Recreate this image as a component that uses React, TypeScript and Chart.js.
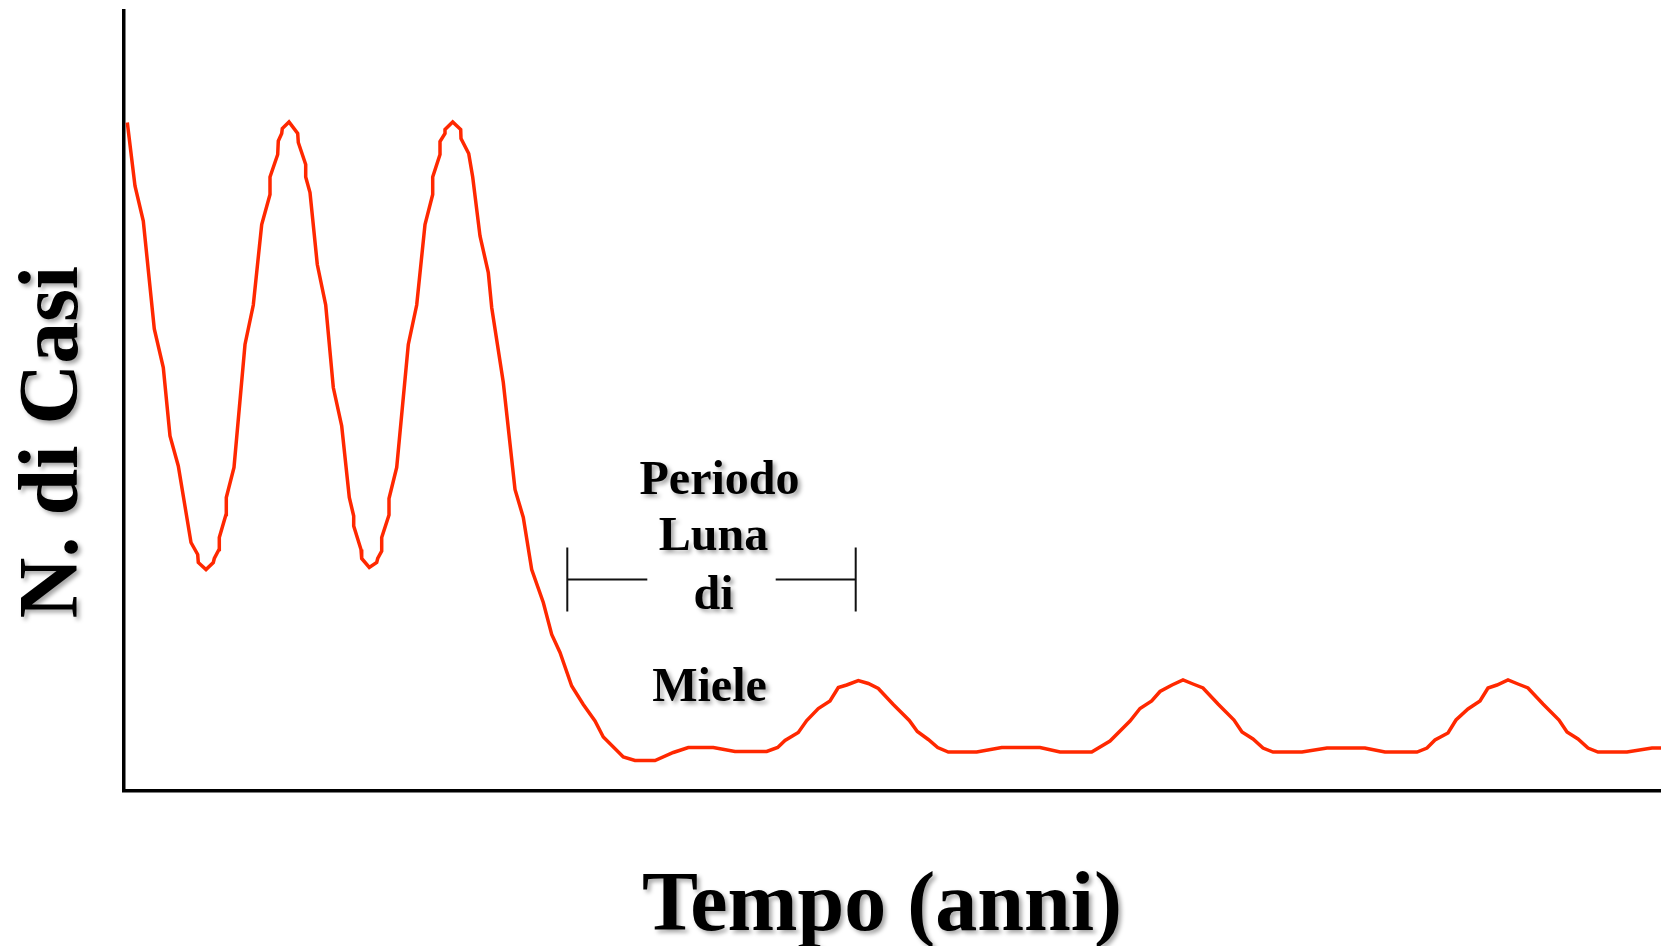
import React, { useEffect, useRef } from "react";
import { Chart, registerables } from "chart.js";

Chart.register(...registerables);

// Tempo (mesi) e N. di casi
const months: number[] = [
  0.33, 1.1, 1.93, 3.03, 3.93, 4.6, 5.43, 6.7, 7.37, 7.43, 8.2, 8.93, 9.03, 9.5, 9.53, 10.2, 10.23, 11,
  12.1, 12.93, 13.77, 14.6, 14.6, 15.37, 15.43, 15.77, 15.83, 16.5, 17.37, 17.43, 18.17, 18.17, 18.6,
  19.33, 20.17, 20.93, 21.77, 22.53, 22.97, 22.97, 23.7, 23.77, 24.53, 25.27, 25.37, 25.77, 25.77, 26.5,
  26.5, 27.27, 28.43, 29.27, 30.1, 30.87, 30.87, 31.6, 31.6, 32.1, 32.1, 32.87, 33.67, 33.7, 34.47, 34.87,
  35.6, 36.43, 36.77, 37.93, 39.1, 39.93, 40.77, 41.93, 42.77, 43.6, 44.77, 45.93, 47.1, 47.93, 49.93,
  51.1, 53.1, 54.93, 56.43, 58.93, 61.1, 64.27, 65.37, 66.1, 67.43, 68.27, 69.43, 70.6, 71.43, 72.27,
  73.43, 74.43, 75.43, 76.93, 78.53, 79.33, 80.43, 81.37, 82.43, 85.27, 87.77, 91.6, 93.6, 96.77, 98.6,
  100.6, 101.6, 102.77, 103.6, 104.8, 105.9, 106.9, 107.9, 109.4, 111, 111.8, 112.9, 113.9, 114.9, 117.8,
  120.3, 124.1, 126.1, 129.3, 130.3, 131.1, 132.4, 133.2, 134.4, 135.6, 136.4, 137.3, 138.4, 139.4, 140.4,
  141.9, 143.5, 144.3, 145.4, 146.4, 147.4, 150.3, 152.8, 153.7,
];

const cases: number[] = [
  133.7, 121, 114, 92.4, 84.7, 71, 65, 49.7, 47.3, 45.7, 44.3, 45.7, 46.5, 48.3, 50.7, 55.3, 58.7, 64.7,
  89.3, 97.2, 113.3, 119.3, 122.8, 127.3, 130, 131.5, 132.5, 133.8, 131.5, 129.7, 125.3, 122.8, 119.7,
  105.3, 97.2, 80.7, 73, 58.7, 55, 53, 48.3, 46.5, 44.7, 45.7, 46.5, 48, 50.7, 55.2,
  58.5, 64.7, 89.3, 97.2, 113.3, 119.3, 122.8, 127.3, 129.9, 131.5, 132.3, 133.8, 132.3, 130.5, 127.5, 122.8,
  111, 103.7, 96.7, 81.7, 60.3, 54.7, 44.3, 37.7, 31.3, 27.7, 21, 17.3, 14, 10.8, 6.8,
  6.1, 6.1, 7.7, 8.7, 8.7, 7.9, 7.9, 8.7, 10.1, 11.7, 14.1, 16.5, 18, 20.7, 21.2,
  22.1, 21.5, 20.5, 17.3, 14.1, 11.9, 10.3, 8.7, 7.8, 7.8, 8.7, 8.7, 7.8, 7.8, 10,
  14, 16.5, 18, 19.9, 21.2, 22.2, 21.4, 20.6, 17.4, 14.2, 11.8, 10.4, 8.6, 7.8, 7.8,
  8.6, 8.6, 7.8, 7.8, 8.6, 10.2, 11.6, 14.2, 16.4, 18, 20.6, 21.2, 22.2, 21.4, 20.6,
  17.4, 14.2, 11.8, 10.4, 8.6, 7.8, 7.8, 8.6, 8.6,
];

const xTitle = "Tempo (anni)";
const yTitle = "N. di Casi";
const honeymoonLabel: string[] = ["Periodo", "Luna", "di", "Miele"];
const honeymoonStart = 44.33;
const honeymoonEnd = 73.17;
const honeymoonLevel = 42.3;

const FONT = '"Liberation Serif", "Times New Roman", serif';

const textPlugin = {
  id: "textPlugin",
  afterDraw(chart: any) {
    const ctx: CanvasRenderingContext2D = chart.ctx;
    const xs = chart.scales.x;
    const ys = chart.scales.y;
    const x1 = xs.getPixelForValue(honeymoonStart);
    const x2 = xs.getPixelForValue(honeymoonEnd);
    const yb = ys.getPixelForValue(honeymoonLevel);
    const mid = (x1 + x2) / 2;

    // bracket
    ctx.save();
    ctx.strokeStyle = "#111";
    ctx.lineWidth = 2;
    ctx.beginPath();
    ctx.moveTo(x1, yb - 32);
    ctx.lineTo(x1, yb + 32);
    ctx.moveTo(x2, yb - 32);
    ctx.lineTo(x2, yb + 32);
    ctx.moveTo(x1, yb);
    ctx.lineTo(x1 + 80, yb);
    ctx.moveTo(x2 - 80, yb);
    ctx.lineTo(x2, yb);
    ctx.stroke();
    ctx.restore();

    const shadow = () => {
      ctx.shadowColor = "rgba(0,0,0,0.35)";
      ctx.shadowBlur = 4;
      ctx.shadowOffsetX = 3;
      ctx.shadowOffsetY = 3;
    };

    // honeymoon text
    ctx.save();
    shadow();
    ctx.fillStyle = "#000";
    ctx.font = `bold 48px ${FONT}`;
    ctx.textAlign = "center";
    ctx.textBaseline = "alphabetic";
    const offs = [
      { dx: 8, dy: -86 },
      { dx: 2, dy: -30 },
      { dx: 2, dy: 29 },
      { dx: -2, dy: 121 },
    ];
    honeymoonLabel.forEach((t, i) => {
      ctx.fillText(t, mid + offs[i].dx, yb + offs[i].dy);
    });
    ctx.restore();

    // x title
    ctx.save();
    shadow();
    ctx.fillStyle = "#000";
    ctx.font = `bold 84px ${FONT}`;
    ctx.textAlign = "center";
    ctx.textBaseline = "alphabetic";
    ctx.fillText(xTitle, 882, 930);
    ctx.restore();

    // y title
    ctx.save();
    shadow();
    ctx.fillStyle = "#000";
    ctx.font = `bold 84px ${FONT}`;
    ctx.textAlign = "center";
    ctx.textBaseline = "alphabetic";
    ctx.translate(77, 442);
    ctx.rotate(-Math.PI / 2);
    ctx.fillText(yTitle, 0, 0);
    ctx.restore();
  },
};

export default function App() {
  const ref = useRef<HTMLCanvasElement | null>(null);

  useEffect(() => {
    if (!ref.current) return;
    const data = months.map((m, i) => ({ x: m, y: cases[i] }));
    const chart = new Chart(ref.current, {
      type: "line",
      data: {
        datasets: [
          {
            data,
            borderColor: "rgb(255,40,0)",
            borderWidth: 3.5,
            pointRadius: 0,
            tension: 0,
            fill: false,
          },
        ],
      },
      options: {
        animation: false,
        responsive: false,
        maintainAspectRatio: false,
        layout: { padding: { left: 124, top: 11, right: 0, bottom: 155 } },
        plugins: {
          legend: { display: false },
          tooltip: { enabled: false },
          title: { display: false },
        },
        scales: {
          x: {
            type: "linear",
            min: 0,
            max: 153.7,
            grid: { display: false, drawTicks: false },
            ticks: { display: false },
            border: { display: true, color: "#000", width: 3.5 },
            afterFit: (s: any) => {
              s.height = 0;
            },
          },
          y: {
            type: "linear",
            min: 0,
            max: 156,
            grid: { display: false, drawTicks: false },
            ticks: { display: false },
            border: { display: true, color: "#000", width: 3.5 },
            afterFit: (s: any) => {
              s.width = 0;
            },
          },
        },
      },
      plugins: [textPlugin],
    });
    return () => chart.destroy();
  }, []);

  return (
    <div style={{ position: "fixed", left: 0, top: 0, width: 1661, height: 946, background: "#fff" }}>
      <canvas ref={ref} width={1661} height={946} style={{ width: 1661, height: 946, display: "block" }} />
    </div>
  );
}
